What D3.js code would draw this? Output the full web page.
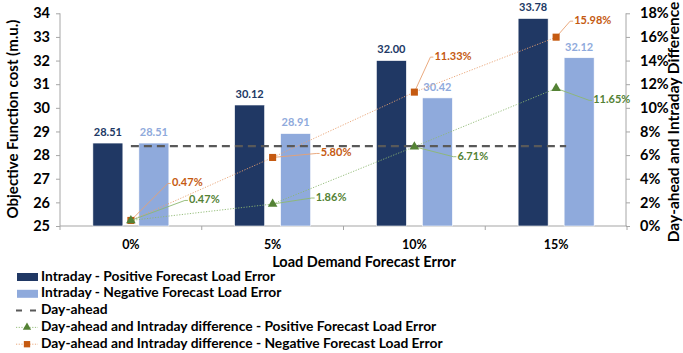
<!DOCTYPE html>
<html>
<head>
<meta charset="utf-8">
<script src="https://cdn.jsdelivr.net/npm/d3@7"></script>
<style>
  body { margin: 0; background: #fff; }
  svg text { font-family: Lato, "Open Sans", sans-serif; font-weight: bold; }
</style>
</head>
<body>
<div id="chart"></div>
<script>
// data
const categories = ["0%", "5%", "10%", "15%"];
const intradayPositive = [28.51, 30.12, 32.00, 33.78];
const intradayNegative = [28.51, 28.91, 30.42, 32.12];
const dayAhead = 28.38;
const diffPositive = [0.47, 1.86, 6.71, 11.65];
const diffNegative = [0.47, 5.80, 11.33, 15.98];
const leftTicks = [25, 26, 27, 28, 29, 30, 31, 32, 33, 34];
const rightTicks = [0, 2, 4, 6, 8, 10, 12, 14, 16, 18];

// label placement (pixel offsets from the point to the text)
const negLabelOffsets = [[41, -37], [48, -4], [20, -35], [18, -16]];
const posLabelOffsets = [[58, -20], [43, -6], [43, 10], [37, 12]];

const W = 683, H = 353;
const dark = "#203864", light = "#8FAADC";
const orange = "#C55A11", green = "#548235";
const axisColor = "#A6A6A6";

const svg = d3.select("#chart").append("svg")
  .attr("width", W).attr("height", H);

const x = d3.scaleBand().domain(categories).range([60, 627]);
const yL = d3.scaleLinear().domain([25, 34]).range([226, 13.3]);
const yR = d3.scaleLinear().domain([0, 18]).range([226, 13.3]);
const cx = (c) => x(c) + x.bandwidth() / 2;
const x1 = d3.scaleBand().domain(["pos", "neg"]).range([-38, 38]).paddingInner(0.3478);

// axes
const gL = svg.append("g").attr("transform", "translate(60,0)")
  .call(d3.axisLeft(yL).tickValues(leftTicks).tickSize(4).tickPadding(6));
const gR = svg.append("g").attr("transform", "translate(626,0)")
  .call(d3.axisRight(yR).tickValues(rightTicks).tickSize(4).tickPadding(10)
    .tickFormat((d) => d + "%"));
[gL, gR].forEach((g) => {
  g.select(".domain").attr("stroke", axisColor);
  g.selectAll(".tick line").attr("stroke", axisColor);
  g.selectAll("text").attr("fill", "#000").style("font-size", "14.5px")
    .style("font-family", "Lato, sans-serif").style("font-weight", "bold");
});
gL.select(".domain").attr("d", "M0,13.3V226");
gR.select(".domain").attr("d", "M0,13.3V226");

// bottom axis
const gB = svg.append("g");
gB.append("line").attr("x1", 60).attr("x2", 627).attr("y1", 226).attr("y2", 226)
  .attr("stroke", axisColor).attr("stroke-width", 1.2);
gB.selectAll("line.tk").data(categories.concat([null])).enter().append("line")
  .attr("class", "tk")
  .attr("x1", (d, i) => x.range()[0] + i * x.step())
  .attr("x2", (d, i) => x.range()[0] + i * x.step())
  .attr("y1", 226).attr("y2", 230).attr("stroke", axisColor);
gB.selectAll("text").data(categories).enter().append("text")
  .attr("x", (d) => cx(d)).attr("y", 246).attr("dominant-baseline", "middle")
  .attr("text-anchor", "middle").style("font-size", "12.5px").text((d) => d);

// titles
svg.append("text").attr("x", 364).attr("y", 263).attr("dominant-baseline", "middle")
  .attr("text-anchor", "middle").style("font-size", "14.5px")
  .text("Load Demand Forecast Error");
svg.append("text").attr("transform", "translate(14,119) rotate(-90)")
  .attr("dominant-baseline", "middle").attr("text-anchor", "middle")
  .style("font-size", "15px").text("Objective Function cost (m.u.)");
svg.append("text").attr("transform", "translate(675,122) rotate(-90)")
  .attr("dominant-baseline", "middle").attr("text-anchor", "middle")
  .style("font-size", "15.5px").text("Day-ahead and Intraday Difference");

// bars
const barData = categories.flatMap((c, i) => [
  { c, key: "pos", v: intradayPositive[i], color: dark },
  { c, key: "neg", v: intradayNegative[i], color: light },
]);
svg.append("g").selectAll("rect").data(barData).enter().append("rect")
  .attr("x", (d) => cx(d.c) + x1(d.key))
  .attr("width", x1.bandwidth())
  .attr("y", (d) => yL(d.v))
  .attr("height", (d) => yL(25) - yL(d.v))
  .attr("fill", (d) => d.color)
  .attr("stroke", "#fff").attr("stroke-width", 0.6);
svg.append("g").selectAll("text").data(barData).enter().append("text")
  .attr("x", (d) => cx(d.c) + x1(d.key) + x1.bandwidth() / 2)
  .attr("y", (d) => yL(d.v) - 10)
  .attr("dominant-baseline", "middle").attr("text-anchor", "middle")
  .attr("fill", (d) => d.color).style("font-size", "11px")
  .text((d) => d.v.toFixed(2));

// day-ahead dashed line
svg.append("line")
  .attr("x1", cx(categories[0])).attr("x2", cx(categories[3]) + 10)
  .attr("y1", yL(dayAhead)).attr("y2", yL(dayAhead))
  .attr("stroke", "#595959").attr("stroke-width", 2.2)
  .attr("stroke-dasharray", "8,5");

// difference series
function drawSeries(values, color, lineColor, offsets, marker) {
  const pts = values.map((v, i) => [cx(categories[i]), yR(v)]);
  svg.append("path").attr("d", d3.line()(pts)).attr("fill", "none")
    .attr("stroke", lineColor).attr("stroke-width", 0.9)
    .attr("stroke-dasharray", "1.2,1.5");
  const g = svg.append("g");
  pts.forEach((p, i) => {
    const [dx, dy] = offsets[i];
    g.append("polyline")
      .attr("points", [p, [p[0] + dx - 4, p[1] + dy], [p[0] + dx - 1, p[1] + dy]].join(" "))
      .attr("fill", "none").attr("stroke", lineColor).attr("stroke-width", 0.9);
    g.append("text").attr("x", p[0] + dx).attr("y", p[1] + dy)
      .attr("dominant-baseline", "middle").attr("fill", color)
      .style("font-size", "11px").text(values[i].toFixed(2) + "%");
  });
  g.selectAll("path.mk").data(pts).enter().append("path").attr("class", "mk")
    .attr("transform", (d) => `translate(${d[0]},${d[1]})`)
    .attr("d", d3.symbol().type(marker).size(marker === d3.symbolSquare ? 50 : 40))
    .attr("fill", color);
}
drawSeries(diffNegative, orange, "#E8A070", negLabelOffsets, d3.symbolSquare);
drawSeries(diffPositive, green, "#8DB870", posLabelOffsets, d3.symbolTriangle);

// legend
const legendItems = [
  { label: "Intraday - Positive Forecast Load Error", type: "rect", color: dark },
  { label: "Intraday - Negative Forecast Load Error", type: "rect", color: light },
  { label: "Day-ahead", type: "dash", color: "#595959" },
  { label: "Day-ahead and Intraday difference - Positive Forecast Load Error", type: "tri", color: green, line: "#8DB870" },
  { label: "Day-ahead and Intraday difference - Negative Forecast Load Error", type: "sq", color: orange, line: "#E8A070" },
];
const lg = svg.append("g");
legendItems.forEach((d, i) => {
  const y = 277 + i * 16.8;
  const g = lg.append("g").attr("transform", `translate(0,${y})`);
  if (d.type === "rect") {
    g.append("rect").attr("x", 17).attr("y", -4).attr("width", 21).attr("height", 8).attr("fill", d.color);
  } else if (d.type === "dash") {
    g.append("line").attr("x1", 16).attr("x2", 38).attr("y1", 0).attr("y2", 0)
      .attr("stroke", d.color).attr("stroke-width", 2).attr("stroke-dasharray", "6,8");
  } else {
    g.append("line").attr("x1", 16).attr("x2", 38).attr("y1", 0).attr("y2", 0)
      .attr("stroke", d.line).attr("stroke-width", 0.9).attr("stroke-dasharray", "1.2,1.5");
    g.append("path").attr("transform", "translate(27,0)")
      .attr("d", d3.symbol().type(d.type === "sq" ? d3.symbolSquare : d3.symbolTriangle).size(d.type === "sq" ? 40 : 30))
      .attr("fill", d.color);
  }
  g.append("text").attr("x", 41).attr("y", 0).attr("dominant-baseline", "middle")
    .style("font-size", "13.8px").text(d.label);
});
</script>
</body>
</html>
